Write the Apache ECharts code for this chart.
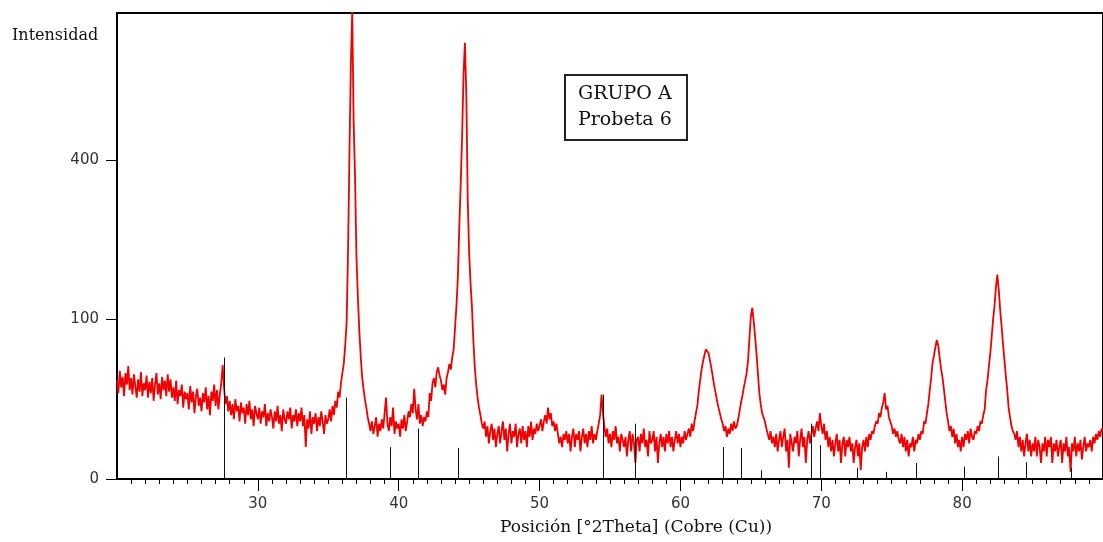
<!DOCTYPE html>
<html>
<head>
<meta charset="utf-8">
<title>Difractograma - Grupo A Probeta 6</title>
<script src="https://cdn.jsdelivr.net/npm/echarts@6/dist/echarts.min.js"></script>
<style>
    html, body { margin: 0; padding: 0; background: #fff; }
    #chart { width: 1103px; height: 542px; }
</style>
</head>
<body>
<div id="chart"></div>
<script>
// barrido: 20 a 90 grados 2Theta, paso 0.1
const startAngle = 20;
const stepAngle = 0.1;

const intensity = [
    38, 29, 46, 33, 41, 27, 44, 35, 50, 31,
    40, 28, 43, 34, 26, 39, 30, 45, 27, 36,
    31, 42, 26, 37, 29, 40, 24, 35, 44, 28,
    36, 25, 41, 31, 38, 27, 43, 30, 39, 26,
    33, 24, 38, 22, 31, 27, 35, 20, 30, 25,
    29, 19, 34, 23, 30, 17, 27, 32, 21, 26,
    18, 29, 23, 33, 19, 27, 16, 30, 24, 35,
    21, 31, 19, 28, 36, 51, 33, 22, 27, 18,
    24, 16, 22, 14, 25, 18, 21, 13, 23, 17,
    20, 12, 22, 16, 24, 14, 19, 11, 21, 17,
    14, 20, 12, 18, 15, 22, 11, 17, 13, 19,
    15, 10, 18, 13, 21, 12, 16, 9, 19, 14,
    12, 18, 14, 20, 10, 16, 13, 19, 11, 17,
    13, 20, 11, 16, 4, 14, 10, 18, 8, 15,
    12, 17, 9, 15, 11, 18, 13, 8, 16, 12,
    14, 19, 13, 21, 16, 24, 20, 30, 26, 36,
    44, 52, 70, 95, 200, 408, 667, 860, 500, 358,
    194, 130, 87, 60, 41, 32, 25, 20, 15, 12,
    9, 13, 8, 11, 15, 7, 12, 9, 14, 10,
    17, 26, 12, 9, 15, 11, 20, 8, 13, 10,
    12, 7, 14, 10, 16, 9, 13, 18, 15, 22,
    17, 32, 19, 14, 22, 12, 16, 11, 15, 13,
    18, 15, 29, 24, 36, 40, 33, 45, 49, 42,
    38, 31, 35, 28, 40, 45, 52, 47, 58, 66,
    90, 118, 160, 250, 340, 460, 640, 747, 580, 306,
    200, 150, 116, 75, 49, 35, 26, 20, 16, 12,
    10, 13, 7, 11, 5, 9, 12, 6, 10, 4,
    8, 11, 5, 9, 13, 6, 10, 3, 8, 12,
    5, 9, 7, 12, 4, 8, 10, 5, 11, 6,
    9, 4, 11, 7, 13, 6, 10, 8, 12, 9,
    11, 14, 9, 13, 16, 12, 20, 14, 17, 11,
    13, 9, 12, 8, 5, 7, 4, 8, 6, 9,
    5, 8, 3, 7, 10, 4, 8, 6, 9, 3,
    7, 10, 5, 8, 4, 9, 6, 11, 5, 8,
    6, 9, 12, 16, 28, 17, 11, 7, 10, 5,
    8, 4, 9, 6, 11, 5, 7, 3, 8, 6,
    4, 7, 2, 6, 9, 3, 8, 5, 1, 6,
    7, 3, 8, 5, 10, 4, 6, 2, 9, 5,
    6, 9, 3, 7, 1, 5, 8, 4, 7, 3,
    8, 5, 9, 4, 7, 3, 6, 9, 5, 8,
    4, 7, 5, 9, 6, 8, 10, 7, 12, 9,
    13, 17, 21, 30, 38, 47, 54, 60, 66, 68,
    62, 55, 48, 41, 34, 29, 24, 20, 17, 14,
    12, 9, 11, 7, 10, 8, 12, 9, 13, 10,
    11, 14, 18, 23, 27, 33, 38, 44, 55, 78,
    104, 115, 98, 80, 62, 44, 29, 22, 17, 15,
    13, 10, 8, 6, 9, 5, 7, 4, 8, 3,
    6, 9, 4, 7, 10, 3, 6, 0.5, 8, 5,
    3, 7, 5, 9, 2, 6, 10, 4, 7, 1,
    6, 9, 5, 8, 11, 7, 10, 13, 9, 17,
    11, 8, 12, 6, 9, 4, 7, 3, 6, 2,
    5, 8, 3, 6, 1, 5, 7, 2, 6, 4,
    7, 3, 5, 1, 4, 6, 2, 5, 0.3, 4,
    6, 3, 7, 4, 8, 6, 9, 8, 11, 13,
    12, 17, 15, 20, 23, 29, 19, 21, 15, 13,
    11, 8, 10, 7, 9, 6, 5, 8, 4, 7,
    3, 6, 2, 5, 4, 7, 3, 6, 5, 8,
    6, 9, 8, 13, 12, 17, 22, 31, 40, 53,
    60, 68, 76, 70, 58, 48, 41, 32, 24, 17,
    13, 9, 11, 7, 10, 5, 8, 4, 6, 3,
    7, 4, 8, 6, 9, 5, 10, 7, 6, 9,
    8, 11, 9, 13, 12, 16, 19, 31, 38, 50,
    62, 80, 100, 118, 145, 164, 140, 112, 92, 72,
    56, 42, 31, 20, 15, 11, 9, 8, 6, 9,
    4, 7, 3, 6, 2, 5, 8, 3, 6, 2,
    5, 3, 7, 2, 6, 4, 1, 5, 3, 7,
    2, 6, 4, 7, 1, 5, 3, 6, 2, 4,
    6, 1, 5, 3, 7, 2, 4, 0.2, 5, 3,
    7, 2, 5, 3, 6, 1.5, 4, 7, 3, 5,
    4, 6, 3, 7, 5, 8, 6, 9, 7, 10,
    9
];

// patron de referencia (lineas negras)
const refPositions = [27.6, 36.25, 39.36, 41.35, 44.2, 54.5, 56.8, 63.0, 64.3, 65.7, 69.25, 69.9, 72.55, 74.6, 76.7, 80.1, 82.55, 84.5, 87.7, 89.9];
const refHeights = [58, 26, 4, 10, 3.8, 28, 12, 4, 3.8, 0.3, 12, 4.5, 0.5, 0.2, 1.0, 0.6, 2.0, 1.1, 0.5, 3.3];

const xTickLabels = [30, 40, 50, 60, 70, 80];
const yTickCounts = [0, 100, 400];

// eje Y en raiz cuadrada de las cuentas
const toSqrt = v => Math.sqrt(v);

const scanData = intensity.map((v, i) => [startAngle + i * stepAngle, toSqrt(v)]);
const refData = refPositions.map((p, i) => [p, toSqrt(refHeights[i])]);
const ySqrtTicks = yTickCounts.map(toSqrt);

const chart = echarts.init(document.getElementById("chart"));

chart.setOption({
    animation: false,
    backgroundColor: "#fff",
    grid: {
        left: 117,
        top: 13,
        width: 989,
        height: 466,
        show: true,
        borderColor: "#000",
        borderWidth: 2
    },
    xAxis: {
        type: "value",
        min: 20,
        max: 90,
        interval: 10,
        name: "Posición [°2Theta] (Cobre (Cu))",
        nameLocation: "middle",
        nameGap: 40,
        nameTextStyle: {
            fontFamily: "DejaVu Serif",
            fontSize: 17,
            color: "#111",
            padding: [0, 0, 0, 52]
        },
        axisLine: { lineStyle: { color: "#000", width: 2 } },
        axisTick: {
            length: 12,
            customValues: xTickLabels,
            lineStyle: { color: "#000", width: 1 }
        },
        minorTick: {
            show: true,
            splitNumber: 10,
            length: 5,
            lineStyle: { color: "#000", width: 1 }
        },
        axisLabel: {
            customValues: xTickLabels,
            margin: 18,
            fontFamily: "DejaVu Sans",
            fontSize: 15,
            color: "#333"
        },
        splitLine: { show: false }
    },
    yAxis: {
        type: "value",
        min: 0,
        max: 29.2,
        interval: 10,
        axisLine: { show: true, lineStyle: { color: "#000", width: 2 } },
        axisTick: {
            show: true,
            length: 11,
            customValues: ySqrtTicks,
            lineStyle: { color: "#000", width: 1 }
        },
        axisLabel: {
            customValues: ySqrtTicks,
            margin: 18,
            fontFamily: "DejaVu Sans",
            fontSize: 15,
            color: "#333",
            formatter: v => String(Math.round(v * v))
        },
        splitLine: { show: false }
    },
    graphic: [
        {
            type: "text",
            left: 12,
            top: 28,
            style: {
                text: "Intensidad",
                font: "16px 'DejaVu Serif'",
                fill: "#111"
            }
        },
        {
            type: "rect",
            shape: { x: 565, y: 75, width: 122, height: 65 },
            style: { fill: "#fff", stroke: "#222", lineWidth: 2 },
            z: 10
        },
        {
            type: "text",
            x: 578,
            y: 94,
            style: {
                text: "GRUPO A",
                font: "19px 'DejaVu Serif'",
                fill: "#111",
                verticalAlign: "middle"
            },
            z: 11
        },
        {
            type: "text",
            x: 578,
            y: 120,
            style: {
                text: "Probeta 6",
                font: "19px 'DejaVu Serif'",
                fill: "#111",
                verticalAlign: "middle"
            },
            z: 11
        }
    ],
    series: [
        {
            name: "Probeta 6",
            type: "line",
            data: scanData,
            showSymbol: false,
            lineStyle: { color: "#f00000", width: 1.8 },
            z: 2
        },
        {
            name: "Referencia",
            type: "custom",
            data: refData,
            z: 3,
            renderItem: function (params, api) {
                const top = api.coord([api.value(0), api.value(1)]);
                const base = api.coord([api.value(0), 0]);
                const x = Math.round(base[0]) + 0.5;
                return {
                    type: "line",
                    shape: { x1: x, y1: base[1], x2: x, y2: top[1] },
                    style: { stroke: "#111", lineWidth: 1 }
                };
            }
        }
    ]
});
</script>
</body>
</html>
